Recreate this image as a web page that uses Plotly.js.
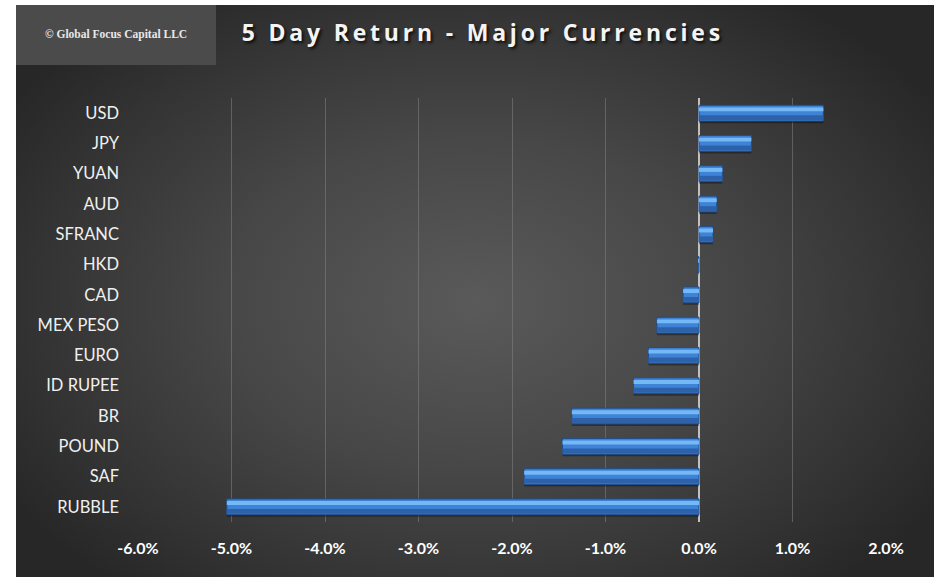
<!DOCTYPE html>
<html>
<head>
<meta charset="utf-8">
<script src="https://cdn.plot.ly/plotly-3.0.1.min.js"></script>
<style>
  html, body { margin: 0; padding: 0; background: #ffffff; }
  #wrap { position: relative; width: 934px; height: 577px; overflow: hidden; }
  #bg {
    position: absolute; left: 16px; top: 5px; width: 918px; height: 572px;
    background: radial-gradient(ellipse 60% 65% at 50% 52%, #5a5a5a 0%, #474747 45%, #333333 80%, #272727 100%);
  }
  #chart { position: absolute; left: 0; top: 0; width: 934px; height: 577px; }
  #chart .gtitle { letter-spacing: 3.8px; }
</style>
</head>
<body>
<div id="wrap">
  <div id="bg"></div>
  <div id="chart"></div>
</div>
<script>
// Data (top to bottom as shown)
const currencies = ["USD", "JPY", "YUAN", "AUD", "SFRANC", "HKD", "CAD", "MEX PESO", "EURO", "ID RUPEE", "BR", "POUND", "SAF", "RUBBLE"];
const returns5d = [0.0133, 0.0056, 0.0025, 0.0019, 0.0015, -0.0001, -0.0017, -0.0045, -0.0054, -0.0070, -0.0136, -0.0146, -0.0187, -0.0505];
const xTickVals = [-0.06, -0.05, -0.04, -0.03, -0.02, -0.01, 0, 0.01, 0.02];
const xTickText = ["-6.0%", "-5.0%", "-4.0%", "-3.0%", "-2.0%", "-1.0%", "0.0%", "1.0%", "2.0%"];
const chartTitle = "5 Day Return - Major Currencies";
const copyrightText = "© Global Focus Capital LLC";

const shadow = {
  type: "bar", orientation: "h", x: returns5d, y: currencies,
  width: 0.08, offset: 0.25,
  marker: { color: "rgba(0,0,0,0.35)", line: { width: 0 } },
  hoverinfo: "skip", showlegend: false
};
const main = {
  type: "bar", orientation: "h", x: returns5d, y: currencies,
  width: 0.52, offset: -0.26,
  marker: { color: "#3f83d6", line: { color: "#1f4d8c", width: 1 } },
  hoverinfo: "skip", showlegend: false
};
const lower = {
  type: "bar", orientation: "h", x: returns5d, y: currencies,
  width: 0.16, offset: 0.07,
  marker: { color: "#2d62ab", line: { width: 0 } },
  hoverinfo: "skip", showlegend: false
};
const highlight = {
  type: "bar", orientation: "h", x: returns5d, y: currencies,
  width: 0.13, offset: -0.19,
  marker: { color: "#74b8f6", line: { width: 0 } },
  hoverinfo: "skip", showlegend: false
};

const layout = {
  width: 934, height: 577,
  paper_bgcolor: "rgba(0,0,0,0)",
  plot_bgcolor: "rgba(0,0,0,0)",
  margin: { l: 138, r: 48, t: 98, b: 55 },
  barmode: "overlay",
  showlegend: false,
  title: {
    text: chartTitle,
    font: { family: "Open Sans", size: 23, color: "#f4f4f4", weight: 700, shadow: "2px 2px 3px rgba(0,0,0,0.75)" },
    xref: "container", yref: "container",
    x: 0.517, xanchor: "center", y: 0.943, yanchor: "middle"
  },
  xaxis: {
    range: [-0.06, 0.02],
    tickvals: xTickVals, ticktext: xTickText,
    showgrid: true, gridcolor: "rgba(130,130,130,0.55)", gridwidth: 1,
    zeroline: true, zerolinecolor: "#c0c0c0", zerolinewidth: 2,
    showline: false, ticks: "",
    tickfont: { family: "Lato", size: 16, color: "#ffffff", weight: 700 },
    ticklabelstandoff: 15,
    fixedrange: true
  },
  yaxis: {
    type: "category",
    autorange: "reversed",
    showgrid: false, zeroline: false, showline: false, ticks: "",
    tickfont: { family: "Lato", size: 16.5, color: "#f0f0f0" },
    ticklabelstandoff: 18,
    fixedrange: true
  },
  shapes: [
    { type: "rect", xref: "paper", yref: "paper", layer: "below",
      x0: (16-138)/748, x1: (216-138)/748, y0: 1 + (98-65)/424, y1: 1 + (98-5)/424,
      fillcolor: "#4b4b4b", line: { width: 0 } }
  ],
  annotations: [
    { text: copyrightText, xref: "paper", yref: "paper",
      x: (116-138)/748, y: 1 + (98-35)/424, xanchor: "center", yanchor: "middle",
      showarrow: false,
      font: { family: "Liberation Serif", size: 11.5, color: "#e8e8e8", weight: 700 } }
  ]
};

Plotly.newPlot("chart", [shadow, main, lower, highlight], layout, { displayModeBar: false, staticPlot: true });
</script>
</body>
</html>
